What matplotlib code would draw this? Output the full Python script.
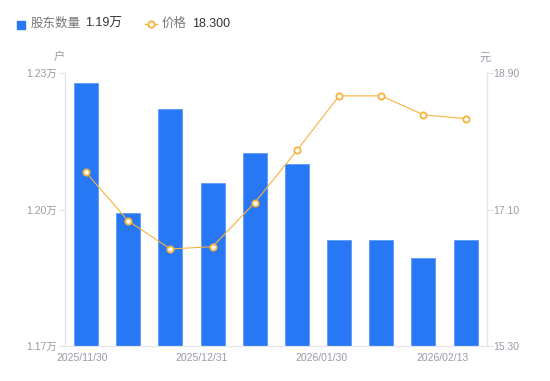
import matplotlib
matplotlib.use("Agg")
import matplotlib.pyplot as plt
from matplotlib.lines import Line2D
from matplotlib.patches import Rectangle

# data
dates = ["2025/11/30", "2025/12/15", "2025/12/20", "2025/12/31", "2026/01/09",
         "2026/01/20", "2026/01/30", "2026/02/06", "2026/02/10", "2026/02/13"]
holders = [1.2278, 1.1992, 1.2221, 1.2058, 1.2124, 1.2100, 1.1933, 1.1933, 1.1893, 1.1933]
price = [17.59, 16.95, 16.58, 16.61, 17.19, 17.88, 18.60, 18.60, 18.35, 18.30]
tick_idx = [0, 3, 6, 9]

FONT = ["Liberation Sans", "Noto Sans CJK SC", "DejaVu Sans"]
plt.rcParams["font.family"] = FONT

BLUE = "#2878f5"
ORANGE = "#f7b23b"
GRAY = "#9a9aa6"
AXC = "#e3e3e8"

fig = plt.figure(figsize=(5.5, 3.81), dpi=100)
ax = fig.add_axes([0.118, 0.092, 0.767, 0.716])
ax2 = ax.twinx()

x = list(range(len(holders)))
ax.bar(x, holders, width=0.57, color=BLUE, edgecolor="#5d9bf8", linewidth=0.6,
       zorder=2)
ax.set_xlim(-0.5, len(holders) - 0.5)
ax.set_ylim(1.17, 1.23)
ax.set_yticks([1.17, 1.20, 1.23])
ax.set_yticklabels([f"{v:.2f}万" for v in [1.17, 1.20, 1.23]])

ax2.plot(x, price, color=ORANGE, lw=0.8, marker="o", ms=4.5, mfc="white",
         mec=ORANGE, mew=1.3, zorder=3)
ax2.set_ylim(15.30, 18.90)
ax2.set_yticks([15.30, 17.10, 18.90])
ax2.set_yticklabels([f"{v:.2f}" for v in [15.30, 17.10, 18.90]])

# date labels spread evenly like the original
label_pos = [-0.1, 2.74, 5.58, 8.45]
ax.set_xticks(label_pos)
ax.set_xticklabels([dates[i] for i in tick_idx])

for a in (ax, ax2):
    for s in a.spines.values():
        s.set_color(AXC)
    a.spines["top"].set_visible(False)
    a.tick_params(axis="y", colors=AXC, labelcolor=GRAY, labelsize=7.5,
                  length=4, width=0.8, pad=2)
ax2.tick_params(axis="y", pad=1)
ax.tick_params(axis="x", length=0, labelcolor=GRAY, labelsize=7.5, pad=5)

ax.text(-0.014, 1.058, "户", transform=ax.transAxes, color=GRAY, fontsize=8,
        ha="center", va="center")
ax.text(0.995, 1.058, "元", transform=ax.transAxes, color=GRAY, fontsize=8,
        ha="center", va="center")

# legend on top
W, H = 550, 381
fig.add_artist(Rectangle((17 / W, 1 - 29 / H), 8 / W, 8 / H, color=BLUE,
                         transform=fig.transFigure))
fig.text(31 / W, 1 - 24 / H, "股东数量", color="#777", fontsize=9, va="center")
fig.text(85 / W, 1 - 24 / H, f"{holders[-1]:.2f}万", color="#333", fontsize=9,
         va="center")
fig.add_artist(Line2D([145 / W, 157 / W], [1 - 24 / H] * 2, color=ORANGE, lw=1,
                      transform=fig.transFigure))
fig.add_artist(Line2D([151 / W], [1 - 24 / H], marker="o", ms=4.5, mfc="white",
                      mec=ORANGE, mew=1.3, transform=fig.transFigure))
fig.text(162 / W, 1 - 24 / H, "价格", color="#777", fontsize=9, va="center")
fig.text(192 / W, 1 - 24 / H, f"{price[-1]:.3f}", color="#333", fontsize=9,
         va="center")

fig.savefig("out.png", dpi=100)
